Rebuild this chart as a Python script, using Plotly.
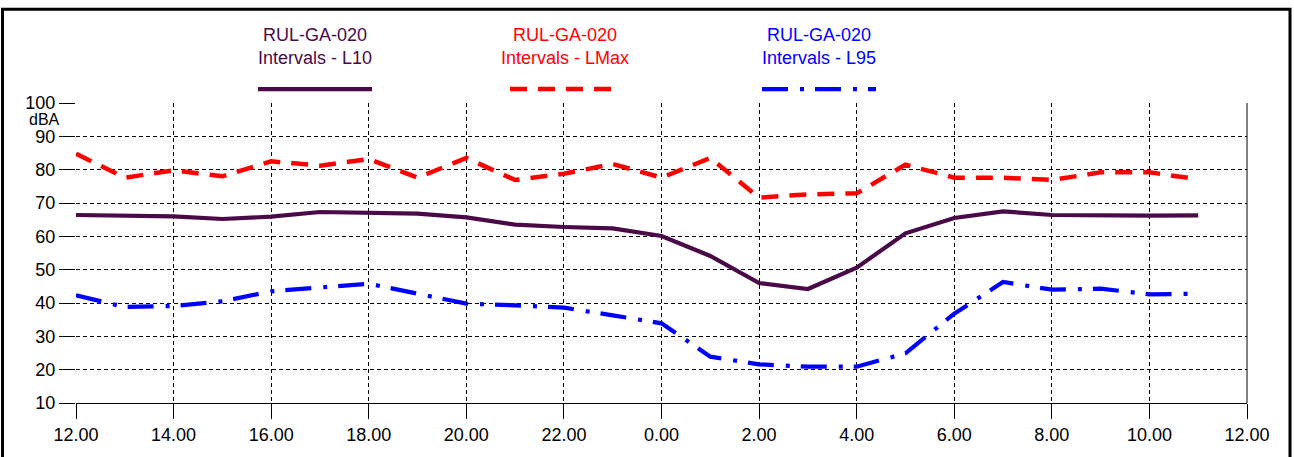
import plotly.graph_objects as go

# ---- data ----
hour_offset = [0, 1, 2, 3, 4, 5, 6, 7, 8, 9, 10, 11,
               12, 13, 14, 15, 16, 17, 18, 19, 20, 21, 22, 23]
l10 = [66.4, 66.1, 66.0, 65.2, 65.9, 67.3, 67.0, 66.8, 65.7, 63.5, 62.8, 62.4,
       60.1, 54.1, 46.0, 44.2, 50.6, 60.9, 65.5, 67.5, 66.4, 66.2, 66.2, 66.3]
lmax = [84.8, 77.6, 79.8, 78.0, 82.5, 81.2, 83.2, 77.6, 83.5, 76.9, 78.8, 81.7,
        77.6, 83.5, 71.6, 72.6, 72.9, 81.5, 77.6, 77.6, 76.9, 79.2, 79.2, 77.1]
l95 = [42.3, 38.8, 39.1, 40.5, 43.5, 44.8, 45.8, 42.8, 39.8, 39.3, 38.6, 36.3,
       33.9, 23.9, 21.6, 20.9, 20.9, 24.9, 36.8, 46.3, 44.0, 44.3, 42.6, 42.8]

tick_vals = [0, 2, 4, 6, 8, 10, 12, 14, 16, 18, 20, 22, 24]
tick_text = ["12.00", "14.00", "16.00", "18.00", "20.00", "22.00", "0.00",
             "2.00", "4.00", "6.00", "8.00", "10.00", "12.00"]
y_ticks = [10, 20, 30, 40, 50, 60, 70, 80, 90, 100]

series_names = ["RUL-GA-020<br>Intervals - L10",
                "RUL-GA-020<br>Intervals - LMax",
                "RUL-GA-020<br>Intervals - L95"]

# ---- styling ----
W, H = 1294, 457
L, R, T, B = 76, 1247, 103, 405
PURPLE = "#4a0a48"
RED = "#ff0000"
BLUE = "#0000ff"
FONT = "Liberation Sans, Arial, sans-serif"
FS = 18

def px_x(p):
    return (p - L) / (R - L)

def px_y(p):
    return (B - p) / (B - T)

styles = [
    dict(color=PURPLE, width=4.2, dash="solid"),
    dict(color=RED, width=4.5, dash="17px,11px"),
    dict(color=BLUE, width=4.2, dash="26px,12px,4px,11px"),
]

fig = go.Figure()
for name, ys, st in zip(series_names, [l10, lmax, l95], styles):
    fig.add_trace(go.Scatter(x=hour_offset, y=ys, mode="lines", name=name,
                             line=st, showlegend=False))

# legend-like header: text above a line sample
legend_pos = [(258, 372), (510, 620), (762, 876)]
shapes = []
annotations = []
for name, st, (a, b) in zip(series_names, styles, legend_pos):
    cx = (a + b) / 2
    annotations.append(dict(x=px_x(cx), y=px_y(46), xref="paper", yref="paper",
                            text=name, showarrow=False, xanchor="center",
                            yanchor="middle",
                            font=dict(family=FONT, size=FS, color=st["color"])))
    shapes.append(dict(type="line", xref="paper", yref="paper",
                       x0=px_x(a), x1=px_x(b), y0=px_y(89), y1=px_y(89),
                       line=dict(color=st["color"], width=st["width"],
                                 dash=st["dash"])))

annotations.append(dict(x=px_x(61), y=px_y(120), xref="paper", yref="paper",
                        text="dBA", showarrow=False, xanchor="right",
                        yanchor="middle", borderpad=0,
                        font=dict(family=FONT, size=16, color="black")))

# outer frame
shapes.append(dict(type="rect", xref="paper", yref="paper",
                   x0=px_x(2.5), x1=px_x(1290), y0=px_y(8.5), y1=px_y(470),
                   line=dict(color="black", width=3), layer="above"))
# right edge line of plot
shapes.append(dict(type="line", xref="paper", yref="paper",
                   x0=1, x1=1, y0=0, y1=1,
                   line=dict(color="black", width=1)))

fig.update_layout(
    width=W, height=H,
    margin=dict(l=L, r=W - R, t=T, b=H - B, pad=0),
    paper_bgcolor="white", plot_bgcolor="white",
    font=dict(family=FONT, size=FS, color="black"),
    shapes=shapes, annotations=annotations,
    showlegend=False,
)
fig.update_xaxes(range=[0, 24], tickmode="array", tickvals=tick_vals,
                 ticktext=tick_text, ticks="outside", ticklen=15,
                 tickcolor="black", tickwidth=1,
                 showgrid=True, gridcolor="black", gridwidth=1, griddash="4px,3px",
                 showline=True, linecolor="black", linewidth=1,
                 zeroline=False, tickfont=dict(size=FS))
fig.update_yaxes(range=[10, 100], tickmode="array", tickvals=y_ticks,
                 ticks="outside", ticklen=16, tickcolor="black", tickwidth=1,
                 showgrid=True, gridcolor="black", gridwidth=1, griddash="4px,3px",
                 showline=False, zeroline=False, tickfont=dict(size=FS))

fig.write_html("out.html")
